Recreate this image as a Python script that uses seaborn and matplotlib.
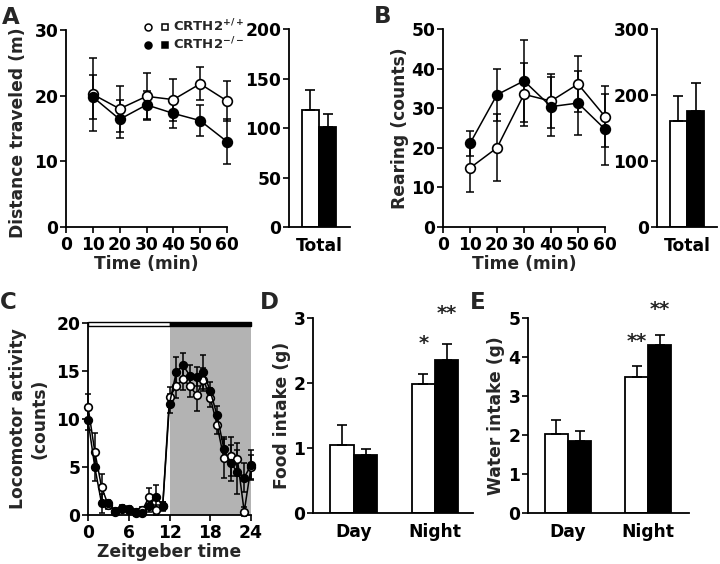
import numpy as np
import pandas as pd
import seaborn as sns
import matplotlib.pyplot as plt
from matplotlib.patches import Rectangle
from matplotlib.lines import Line2D
from matplotlib.legend_handler import HandlerTuple

sns.set_style('ticks')
plt.rcParams['font.family'] = ['DejaVu Sans']
plt.rcParams['font.weight'] = 'bold'
plt.rcParams['axes.labelweight'] = 'bold'
plt.rcParams['axes.linewidth'] = 1.3
plt.rcParams['xtick.major.width'] = 1.2
plt.rcParams['ytick.major.width'] = 1.2
plt.rcParams['xtick.major.size'] = 4.5
plt.rcParams['ytick.major.size'] = 4.5
plt.rcParams['xtick.labelsize'] = 12.3
plt.rcParams['ytick.labelsize'] = 12.3
plt.rcParams['axes.labelsize'] = 12.3
plt.rcParams['xtick.color'] = 'black'
plt.rcParams['ytick.color'] = 'black'
plt.rcParams['axes.edgecolor'] = 'black'
plt.rcParams['mathtext.fontset'] = 'custom'
plt.rcParams['mathtext.rm'] = 'DejaVu Sans:bold'
plt.rcParams['mathtext.bf'] = 'DejaVu Sans:bold'

genotypes = ['+/+', '-/-']

# A: distance traveled (m), 10-min bins
time_min = [10, 20, 30, 40, 50, 60]
dist_wt = [20.2, 18.0, 19.9, 19.4, 21.8, 19.2]
dist_wt_err = [5.6, 3.5, 3.6, 3.2, 2.5, 3.0]
dist_ko = [19.8, 16.4, 18.6, 17.3, 16.2, 13.0]
dist_ko_err = [3.4, 2.9, 2.1, 2.2, 2.4, 3.4]
dist_total = [118.5, 101.0]
dist_total_err = [19.5, 13.0]

# B: rearing (counts)
rear_wt = [14.9, 20.0, 33.5, 31.8, 36.1, 27.9]
rear_wt_err = [6.0, 8.5, 8.0, 6.9, 7.0, 7.7]
rear_ko = [21.1, 33.4, 36.9, 30.4, 31.3, 24.7]
rear_ko_err = [3.2, 6.6, 10.3, 7.5, 8.0, 9.0]
rear_total = [160.0, 176.0]
rear_total_err = [39.0, 42.0]

# C: locomotor activity across zeitgeber time
zt = list(range(25))
loco_wt = [11.3, 6.6, 2.9, 1.0, 0.4, 0.6, 0.5, 0.3, 0.5, 1.9, 0.5, 0.9,
           12.3, 13.4, 14.2, 13.4, 12.5, 14.1, 12.2, 9.4, 5.9, 6.1, 5.8, 0.35, 5.0]
loco_wt_err = [1.3, 1.9, 1.4, 0.4, 0.3, 0.3, 0.3, 0.3, 0.3, 0.9, 0.5, 0.5,
               1.0, 1.2, 1.2, 1.1, 1.7, 1.2, 1.0, 1.0, 2.0, 2.0, 1.7, 0.5, 1.2]
loco_ko = [9.9, 5.0, 1.2, 1.2, 0.35, 0.7, 0.6, 0.2, 0.25, 0.9, 1.9, 0.95,
           11.6, 14.9, 15.6, 14.5, 14.4, 14.9, 12.9, 10.4, 6.9, 5.4, 4.5, 3.9, 5.2]
loco_ko_err = [1.0, 1.5, 1.0, 0.4, 0.3, 0.3, 0.3, 0.3, 0.3, 0.6, 1.2, 0.4,
               1.0, 1.6, 1.3, 1.1, 1.0, 1.8, 1.0, 1.0, 1.2, 1.9, 2.3, 1.5, 1.6]
light_phase = (0, 12)
dark_phase = (12, 24)

# D, E: food and water intake (g)
periods = ['Day', 'Night']
food_wt = [1.04, 1.98]
food_wt_err = [0.31, 0.16]
food_ko = [0.89, 2.35]
food_ko_err = [0.09, 0.25]
food_stars = [['', '*'], ['', '**']]
water_wt = [2.03, 3.49]
water_wt_err = [0.35, 0.27]
water_ko = [1.84, 4.30]
water_ko_err = [0.25, 0.27]
water_stars = [['', '**'], ['', '**']]

W, H = 720, 564
fig = plt.figure(figsize=(W / 100, H / 100), dpi=100)


def add_ax(x0, y0, x1, y1):
    return fig.add_axes([x0 / W, 1 - y1 / H, (x1 - x0) / W, (y1 - y0) / H])


def line_panel(ax, x, wt, wt_err, ko, ko_err, ms, cap):
    for vals, err, face in [(wt, wt_err, 'white'), (ko, ko_err, 'black')]:
        ax.errorbar(x, vals, yerr=err, fmt='none', ecolor='black', elinewidth=1.1,
                    capsize=cap, capthick=1.1, zorder=2, clip_on=False)
        sns.lineplot(x=x, y=vals, ax=ax, color='black', linewidth=1.1, marker='o',
                     markersize=ms, markerfacecolor=face, markeredgecolor='black',
                     markeredgewidth=1.2, zorder=3, clip_on=False)
    sns.despine(ax=ax)
    ax.tick_params(axis='y', pad=1)
    ax.tick_params(axis='x', pad=2)


def bar_panel(ax, cats, wt, wt_err, ko, ko_err, width, stars=None, star_offset=12):
    df = pd.DataFrame({'cat': cats * 2,
                       'geno': [genotypes[0]] * len(cats) + [genotypes[1]] * len(cats),
                       'val': wt + ko})
    sns.barplot(data=df, x='cat', y='val', hue='geno', hue_order=genotypes,
                palette={'+/+': 'white', '-/-': 'black'}, edgecolor='black',
                linewidth=1.3, width=width, errorbar=None, legend=False, ax=ax)
    for i, (cont, err) in enumerate(zip(ax.containers, [wt_err, ko_err])):
        xs = [p.get_x() + p.get_width() / 2 for p in cont.patches]
        hs = [p.get_height() for p in cont.patches]
        ax.errorbar(xs, hs, yerr=[np.zeros(len(err)), err], fmt='none', ecolor='black',
                    elinewidth=1.2, capsize=3.5, capthick=1.2, zorder=1)
        if stars is not None:
            for x, h, e, s in zip(xs, hs, err, stars[i]):
                if s:
                    ax.annotate(s, xy=(x, h + e), xytext=(0, star_offset),
                                textcoords='offset points', ha='center', va='bottom',
                                fontsize=14, fontweight='bold')
    sns.despine(ax=ax)
    ax.set_xlabel('')
    ax.set_ylabel('')
    ax.tick_params(axis='x', length=0, pad=7)
    ax.tick_params(axis='y', pad=1)


# ---- A ----
axA = add_ax(66, 30, 227, 227)
line_panel(axA, time_min, dist_wt, dist_wt_err, dist_ko, dist_ko_err, 7, 3)
axA.set_xlim(0, 60)
axA.set_ylim(0, 30)
axA.set_xticks([0, 10, 20, 30, 40, 50, 60])
axA.set_yticks([0, 10, 20, 30])
axA.set_xlabel('Time (min)', labelpad=1)
axA.set_ylabel('Distance traveled (m)')
axA.yaxis.set_label_coords(-0.245, 0.48)

axA2 = add_ax(289, 29, 350, 227)
bar_panel(axA2, ['Total'], dist_total[:1], dist_total_err[:1], dist_total[1:], dist_total_err[1:], 0.8)
axA2.set_xlim(-0.686, 0.709)
axA2.set_ylim(0, 200)
axA2.set_yticks([0, 50, 100, 150, 200])

# ---- B ----
axB = add_ax(443, 29, 605, 227)
line_panel(axB, time_min, rear_wt, rear_wt_err, rear_ko, rear_ko_err, 7, 3)
axB.set_xlim(0, 60)
axB.set_ylim(0, 50)
axB.set_xticks([0, 10, 20, 30, 40, 50, 60])
axB.set_yticks([0, 10, 20, 30, 40, 50])
axB.set_xlabel('Time (min)', labelpad=1)
axB.set_ylabel('Rearing (counts)')
axB.yaxis.set_label_coords(-0.21, 0.5)

axB2 = add_ax(657, 29, 717, 227)
bar_panel(axB2, ['Total'], rear_total[:1], rear_total_err[:1], rear_total[1:], rear_total_err[1:], 0.8)
axB2.set_xlim(-0.686, 0.686)
axB2.set_ylim(0, 300)
axB2.set_yticks([0, 100, 200, 300])

# ---- C ----
axC = add_ax(88, 323, 251, 515)
axC.axvspan(*dark_phase, color='#b3b3b3', zorder=0, lw=0)
line_panel(axC, zt, loco_wt, loco_wt_err, loco_ko, loco_ko_err, 5.5, 2)
tr = axC.get_xaxis_transform()
for (a, b), fc in [(light_phase, 'white'), (dark_phase, 'black')]:
    axC.add_patch(Rectangle((a, 0.985), b - a, 0.02, transform=tr, facecolor=fc,
                            edgecolor='black', linewidth=1.0, clip_on=False, zorder=4))
axC.set_xlim(0, 24)
axC.set_ylim(0, 20)
axC.set_xticks([0, 6, 12, 18, 24])
axC.set_yticks([0, 5, 10, 15, 20])
axC.set_xlabel('Zeitgeber time', labelpad=1)
axC.set_ylabel('Locomotor activity\n(counts)')
axC.yaxis.set_label_coords(-0.245, 0.5)

# ---- D ----
axD = add_ax(313, 318, 473, 513)
bar_panel(axD, periods, food_wt, food_wt_err, food_ko, food_ko_err, 0.58, food_stars, 15)
axD.set_xlim(-0.506, 1.469)
axD.set_ylim(0, 3)
axD.set_yticks([0, 1, 2, 3])
axD.set_ylabel('Food intake (g)')
axD.yaxis.set_label_coords(-0.135, 0.5)

# ---- E ----
axE = add_ax(528, 318, 689, 513)
bar_panel(axE, periods, water_wt, water_wt_err, water_ko, water_ko_err, 0.58, water_stars, 11)
axE.set_xlim(-0.5, 1.51)
axE.set_ylim(0, 5)
axE.set_yticks([0, 1, 2, 3, 4, 5])
axE.set_ylabel('Water intake (g)')
axE.yaxis.set_label_coords(-0.14, 0.5)

# legend
h_wt = (Line2D([], [], ls='none', marker='o', ms=5, mfc='white', mec='black', mew=1.1),
        Line2D([], [], ls='none', marker='s', ms=5, mfc='white', mec='black', mew=1.1))
h_ko = (Line2D([], [], ls='none', marker='o', ms=5, mfc='black', mec='black', mew=1.1),
        Line2D([], [], ls='none', marker='s', ms=5, mfc='black', mec='black', mew=1.1))
fig.legend([h_wt, h_ko], [r'CRTH2$^{+/+}$', r'CRTH2$^{-/-}$'],
           handler_map={tuple: HandlerTuple(ndivide=None, pad=0.6)},
           loc='upper left', bbox_to_anchor=(143 / W, 1 - 18 / H), frameon=False,
           fontsize=9.5, handlelength=2.0, handletextpad=0.3, labelspacing=0.1,
           borderpad=0, borderaxespad=0)

# panel letters
for lab, x, y in [('A', 2, 6), ('B', 374, 5), ('C', 0, 291), ('D', 260, 291), ('E', 470, 291)]:
    fig.text(x / W, 1 - y / H, lab, fontsize=16.5, fontweight='bold', ha='left', va='top')

fig.savefig('out.png', dpi=100)
